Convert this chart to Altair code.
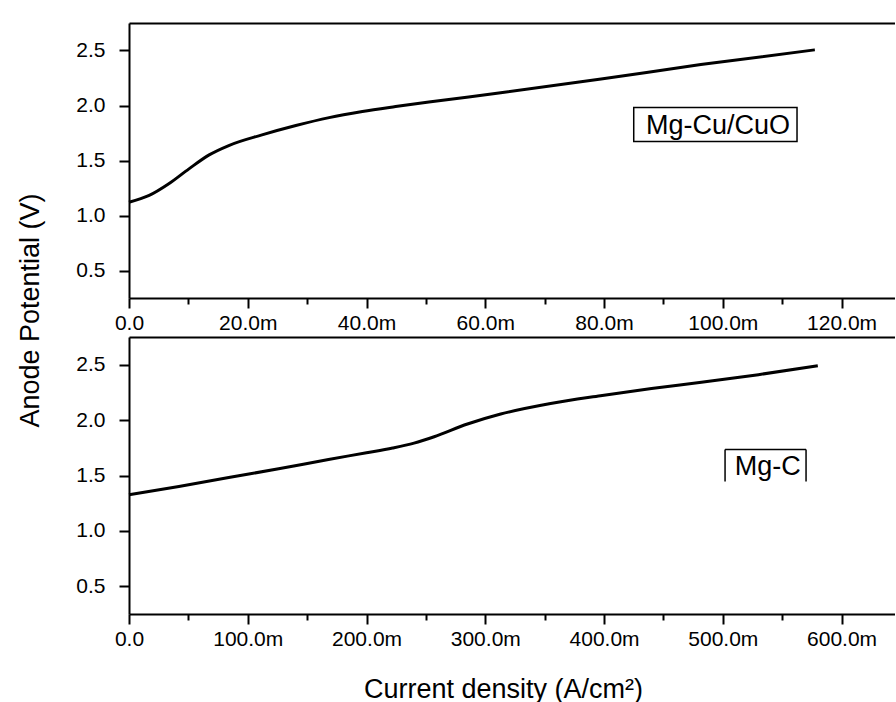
import altair as alt
import pandas as pd

FONT = "Liberation Sans"

# ---- data (current density in A/cm2, potential in V) ----
top_x = [0.0, 0.0034, 0.0067, 0.0101, 0.0135, 0.0168, 0.0224, 0.0281, 0.0337,
         0.0393, 0.0449, 0.0505, 0.0626, 0.0795, 0.0963, 0.1155]
top_y = [1.121, 1.182, 1.288, 1.424, 1.551, 1.636, 1.733, 1.818, 1.890,
         1.945, 1.990, 2.032, 2.115, 2.240, 2.372, 2.506]

bot_x = [0.0, 0.042, 0.084, 0.126, 0.168, 0.200, 0.222, 0.240, 0.257, 0.285,
         0.313, 0.355, 0.397, 0.440, 0.482, 0.530, 0.580]
bot_y = [1.326, 1.401, 1.482, 1.560, 1.645, 1.705, 1.748, 1.792, 1.850, 1.965,
         2.055, 2.150, 2.220, 2.285, 2.342, 2.410, 2.490]

top_xticks = [0.0, 0.01, 0.02, 0.03, 0.04, 0.05, 0.06, 0.07, 0.08, 0.09, 0.10, 0.11, 0.12]
bot_xticks = [0.0, 0.05, 0.10, 0.15, 0.20, 0.25, 0.30, 0.35, 0.40, 0.45, 0.50, 0.55, 0.60]
y_ticks = [0.5, 0.75, 1.0, 1.25, 1.5, 1.75, 2.0, 2.25, 2.5]

top_xdomain = [0.0, 0.129]
bot_xdomain = [0.0, 0.645]
y_domain = [0.25, 2.75]

top_label = "Mg-Cu/CuO"
top_label_pos = [0.0992, 1.745]
top_box = [0.0850, 0.1125, 1.982, 1.673]  # x, x2, y, y2

bot_label = "Mg-C"
bot_label_pos = [0.5378, 1.506]
bot_box_x = [0.5019, 0.5019, 0.5701]
bot_box_x2 = [0.5701, 0.5019, 0.5701]
bot_box_y = [1.734, 1.446, 1.446]
bot_box_y2 = [1.734, 1.734, 1.734]

y_title = "Anode Potential (V)"
x_title = "Current density (A/cm\u00b2)"


def y_axis(title_on):
    kw = dict(
        values=y_ticks,
        labelExpr="round(datum.value*100) % 50 == 0 ? format(datum.value, '.1f') : ''",
        tickSize={"condition": {"test": "round(datum.value*100) % 50 == 0", "value": 10}, "value": 5},
        labelPadding=14,
        labelOverlap=False,
        grid=False,
    )
    if title_on:
        kw.update(title=y_title, titleX=-91, titleY=287, titleAngle=270,
                  titleAlign="center", titleBaseline="alphabetic")
    else:
        kw.update(title=None)
    return alt.Axis(**kw)


def x_axis(ticks, step, title_on):
    kw = dict(
        values=ticks,
        labelExpr=("datum.value < 1e-9 ? '0.0' : (round(datum.value*1000) % " + str(step) +
                   " == 0 ? format(datum.value*1000, '.1f') + 'm' : '')"),
        tickSize={"condition": {"test": "round(datum.value*1000) % " + str(step) + " == 0", "value": 10},
                  "value": 6},
        labelPadding=4,
        labelOverlap=False,
        labelFlush=False,
        grid=False,
    )
    if title_on:
        kw.update(title=x_title, titleX=374, titleY=83, titleAlign="center",
                  titleBaseline="alphabetic")
    else:
        kw.update(title=None)
    return alt.Axis(**kw)


top_frame_axis = alt.Axis(orient="top", labels=False, ticks=False, title=None, grid=False,
                          domainWidth=2, domainColor="black")


def panel(xs, ys, xdom, ticks, step, h, ytitle, xtitle, shape_layer, text_df):
    df = pd.DataFrame({"x": xs, "y": ys})
    xscale = alt.Scale(domain=xdom, nice=False, zero=False)
    yscale = alt.Scale(domain=y_domain, nice=False, zero=False)
    line = alt.Chart(df).mark_line(color="black", strokeWidth=3, interpolate="monotone").encode(
        x=alt.X("x:Q", scale=xscale, axis=x_axis(ticks, step, xtitle)),
        y=alt.Y("y:Q", scale=yscale, axis=y_axis(ytitle)),
    )
    text = alt.Chart(text_df).mark_text(font=FONT, fontSize=27, baseline="alphabetic",
                                        align="center", color="black").encode(
        x=alt.X("x:Q", axis=top_frame_axis),
        y=alt.Y("y:Q"),
        text="t:N",
    )
    return alt.layer(line, shape_layer, text).resolve_axis(x="independent").properties(
        width=766, height=h)


# top annotation
tb = pd.DataFrame({"x": [top_box[0]], "x2": [top_box[1]], "y": [top_box[2]], "y2": [top_box[3]]})
top_rect = alt.Chart(tb).mark_rect(fillOpacity=0, stroke="black", strokeWidth=1.5).encode(
    x=alt.X("x:Q", axis=None), x2="x2:Q", y="y:Q", y2="y2:Q")
tt = pd.DataFrame({"x": [top_label_pos[0]], "y": [top_label_pos[1]], "t": [top_label]})

# bottom annotation
bb = pd.DataFrame({"x": bot_box_x, "x2": bot_box_x2, "y": bot_box_y, "y2": bot_box_y2})
bot_rule = alt.Chart(bb).mark_rule(color="black", strokeWidth=1.5).encode(
    x=alt.X("x:Q", axis=None), x2="x2:Q", y="y:Q", y2="y2:Q")
bt = pd.DataFrame({"x": [bot_label_pos[0]], "y": [bot_label_pos[1]], "t": [bot_label]})

top = panel(top_x, top_y, top_xdomain, top_xticks, 20, 275, True, False, top_rect, tt)
bottom = panel(bot_x, bot_y, bot_xdomain, bot_xticks, 100, 277, False, True, bot_rule, bt)

chart = alt.vconcat(top, bottom, spacing=39, bounds="flush").properties(
    padding={"left": 16, "top": 23, "right": 0, "bottom": 0},
    background="white",
).configure_view(
    strokeWidth=0
).configure_axis(
    domainColor="black", domainWidth=2, tickColor="black", tickWidth=2,
    labelColor="black", labelFont=FONT, labelFontSize=21,
    titleColor="black", titleFont=FONT, titleFontSize=27, titleFontWeight="normal",
)

chart.save("out.html", embed_options={"renderer": "svg", "actions": False})
